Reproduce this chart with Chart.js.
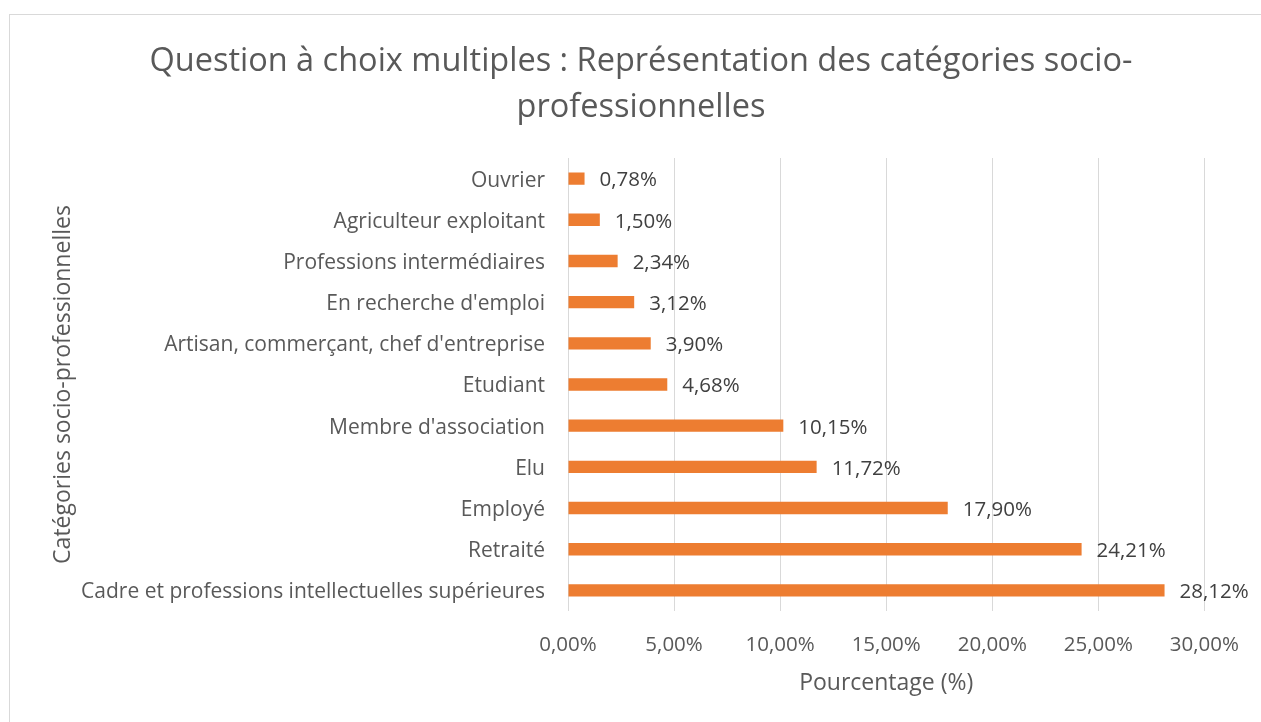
<!DOCTYPE html>
<html lang="fr">
<head>
<meta charset="utf-8">
<title>Catégories socio-professionnelles</title>
<script src="https://cdn.jsdelivr.net/npm/chart.js@4"></script>
<style>
  html, body { margin: 0; padding: 0; background: #fff; overflow: hidden; }
  #frame { position: absolute; left: 9px; top: 14px; width: 1400px; height: 900px; border: 1px solid #d9d9d9; }
  #wrap { position: absolute; left: 0; top: 0; width: 1261px; height: 722px; }
</style>
</head>
<body>
<div id="frame"></div>
<div id="wrap"><canvas id="cspChart"></canvas></div>
<script>
// --- data ---
const categories = [
  'Ouvrier',
  'Agriculteur exploitant',
  'Professions intermédiaires',
  "En recherche d'emploi",
  "Artisan, commerçant, chef d'entreprise",
  'Etudiant',
  "Membre d'association",
  'Elu',
  'Employé',
  'Retraité',
  'Cadre et professions intellectuelles supérieures',
];
const percentages = [0.78, 1.50, 2.34, 3.12, 3.90, 4.68, 10.15, 11.72, 17.90, 24.21, 28.12];
const xTicks = [0, 5, 10, 15, 20, 25, 30];

const titleLines = ['Question à choix multiples : Représentation des catégories socio-', 'professionnelles'];
const FONT = "'Open Sans', Lato, sans-serif";

const fmt = v => v.toFixed(2).replace('.', ',') + '%';

// value labels at the end of each bar
const barLabels = {
  id: 'barLabels',
  afterDatasetsDraw(chart) {
    const ctx = chart.ctx;
    const meta = chart.getDatasetMeta(0);
    ctx.save();
    ctx.font = '20.5px ' + FONT;
    ctx.fillStyle = '#404040';
    ctx.textAlign = 'left';
    ctx.textBaseline = 'middle';
    meta.data.forEach((bar, i) => {
      ctx.fillText(fmt(percentages[i]), bar.x + 15, bar.y + 2);
    });
    ctx.restore();
  }
};

// centre the title over the whole frame, not just the padded box
const titleCenter = {
  id: 'titleCenter',
  afterLayout(chart) {
    const t = chart.titleBlock;
    if (!t) return;
    t.left = 21;
    t.right = chart.width;
  }
};

Chart.defaults.font.family = FONT;
Chart.defaults.color = '#595959';

new Chart(document.getElementById('cspChart'), {
  type: 'bar',
  data: {
    labels: categories,
    datasets: [{
      data: percentages,
      backgroundColor: '#ed7d31',
      borderWidth: 0,
      barPercentage: 0.3,
      categoryPercentage: 1,
    }]
  },
  plugins: [barLabels, titleCenter],
  options: {
    indexAxis: 'y',
    responsive: true,
    maintainAspectRatio: false,
    animation: false,
    layout: { padding: { left: 0, right: 54, top: 15, bottom: 0 } },
    plugins: {
      legend: { display: false },
      tooltip: { enabled: false },
      title: {
        display: true,
        text: titleLines,
        color: '#595959',
        font: { size: 32.5, weight: 'normal', lineHeight: 1.4 },
        padding: { top: 24, bottom: 28 },
      }
    },
    scales: {
      x: {
        min: 0, max: 30,
        afterBuildTicks: s => { s.ticks = xTicks.map(v => ({ value: v })); },
        afterFit: s => { s.height = 111; },
        ticks: { callback: v => fmt(v), font: { size: 20.5 }, padding: 22, maxRotation: 0 },
        grid: { color: '#d9d9d9', lineWidth: 1, drawTicks: false },
        border: { display: false },
        title: { display: true, text: 'Pourcentage (%)', font: { size: 23 }, padding: { top: 0, bottom: 25 } }
      },
      y: {
        afterFit: s => { s.width = 568; },
        ticks: { font: { size: 21 }, padding: 23, labelOffset: 2 },
        grid: { display: false, drawTicks: false },
        border: { display: false },
        title: { display: true, text: 'Catégories socio-professionnelles', font: { size: 23 }, padding: { top: 50, bottom: 0 } }
      }
    }
  }
});
</script>
</body>
</html>
